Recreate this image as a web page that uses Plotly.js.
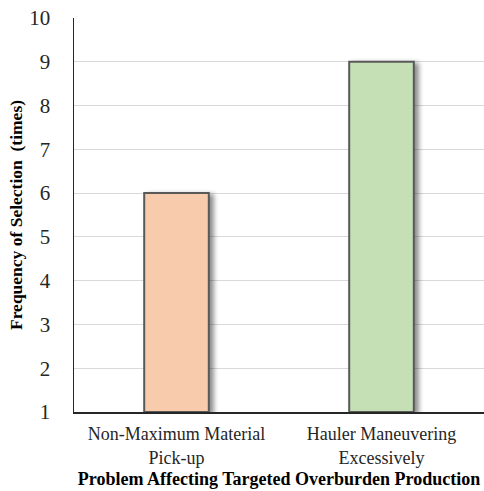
<!DOCTYPE html>
<html>
<head>
<meta charset="utf-8">
<script src="https://cdn.plot.ly/plotly-3.0.1.min.js"></script>
<style>
  html, body { margin: 0; padding: 0; background: #fff; }
  #chart { width: 484px; height: 491px; }
  /* soft shadow cast to the lower right of each bar */
  .bars .point path { filter: drop-shadow(4px 2px 2.5px rgba(0,0,0,0.45)); }
</style>
</head>
<body>
<div id="chart"></div>
<script>
// Problems and how often each was selected
const categories = ["Non-Maximum Material<br>Pick-up", "Hauler Maneuvering<br>Excessively"];
const frequencies = [6, 9];
const barColors = ["#F8CBAD", "#C5E0B4"];
const yTicks = [1, 2, 3, 4, 5, 6, 7, 8, 9, 10];
const axisFloor = 1;

const serif = "Liberation Serif";

const trace = {
  type: "bar",
  x: categories,
  // bars rise from the axis floor (1) up to each frequency
  y: frequencies.map(v => v - axisFloor),
  base: axisFloor,
  width: 0.315,
  marker: { color: barColors, line: { color: "#595959", width: 2 } },
  hoverinfo: "none"
};

const layout = {
  width: 484, height: 491,
  margin: { l: 74, r: 0, t: 18, b: 79 },
  paper_bgcolor: "#fff", plot_bgcolor: "#fff",
  showlegend: false,
  xaxis: {
    type: "category", range: [-0.5, 1.5],
    showline: true, linecolor: "#262626", linewidth: 1.5,
    showgrid: false, ticks: "", ticklabelstandoff: 5,
    tickfont: { family: serif, size: 18, color: "#262626" },
    title: { text: "<b>Problem Affecting Targeted Overburden Production</b>",
             font: { family: serif, size: 18, color: "#000" }, standoff: 6 }
  },
  yaxis: {
    range: [axisFloor, 10], tickvals: yTicks,
    showline: true, linecolor: "#262626", linewidth: 1.5,
    showgrid: true, gridcolor: "#D9D9D9",
    ticks: "", ticklabelstandoff: 18,
    tickfont: { family: serif, size: 21, color: "#262626" },
    title: { text: "<b>Frequency of Selection  (times)</b>",
             font: { family: serif, size: 17.5, color: "#000" }, standoff: 2 },
    zeroline: false
  }
};

Plotly.newPlot("chart", [trace], layout, { displayModeBar: false, staticPlot: true });
</script>
</body>
</html>
